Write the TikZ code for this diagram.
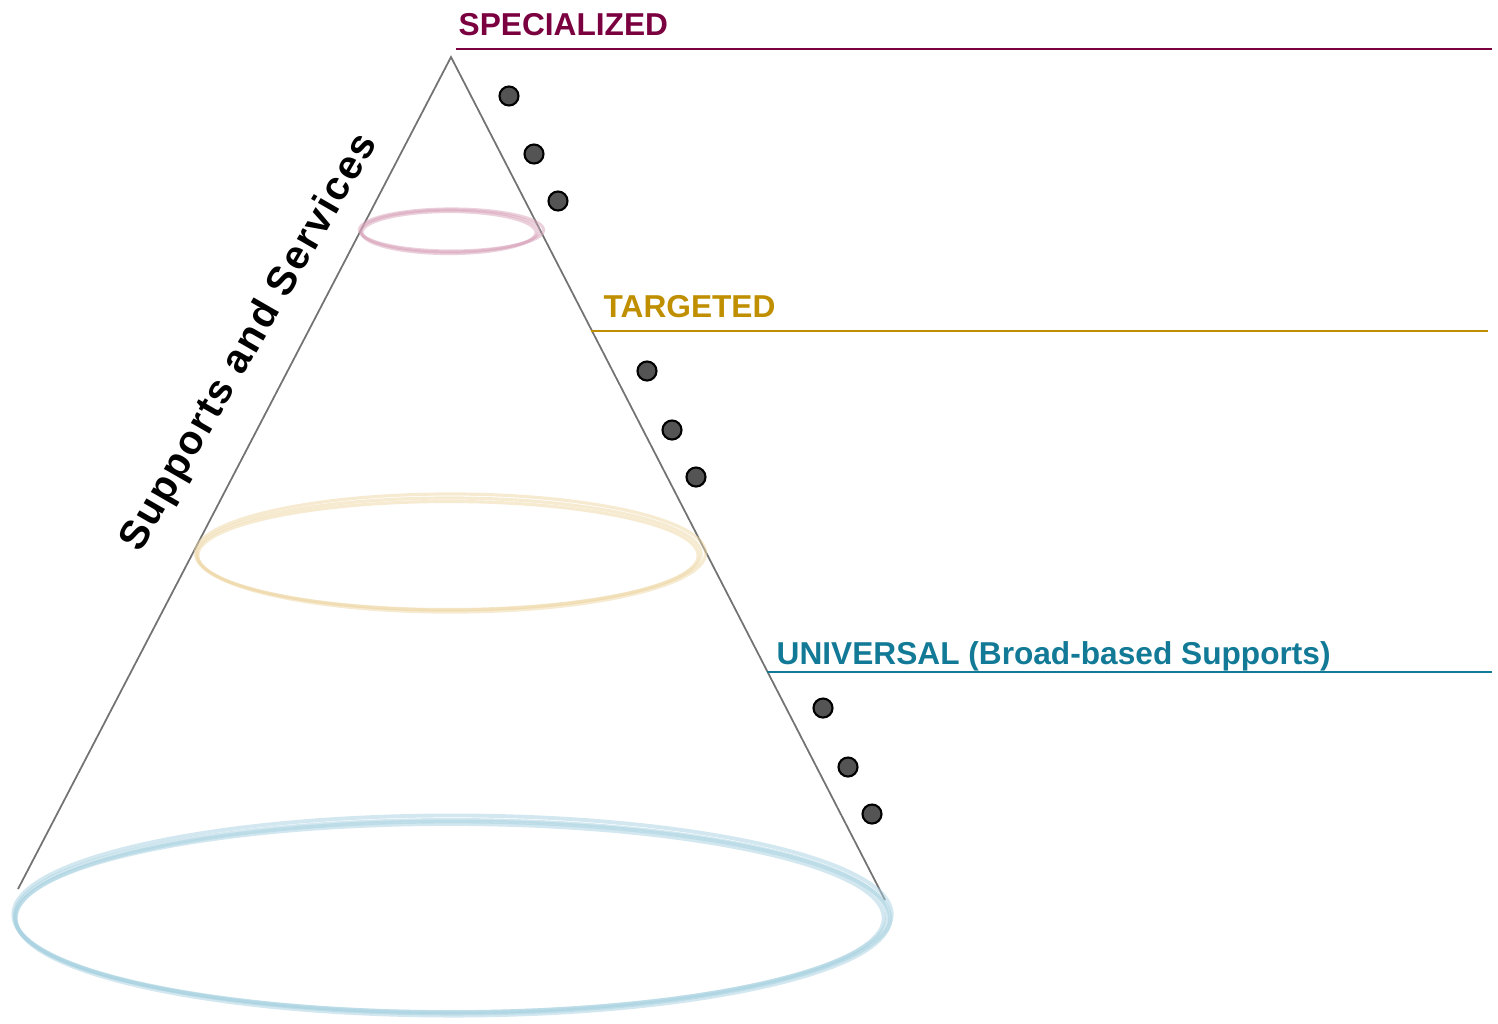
\documentclass[tikz,border=0pt]{standalone}
\usepackage{fontspec}
\setmainfont{Liberation Sans}
\newfontfamily\axisfont[LetterSpace=5]{Liberation Sans}
\usetikzlibrary{calc}

\definecolor{specialcol}{HTML}{7A0040}
\definecolor{targetcol}{HTML}{BF8F00}
\definecolor{universalcol}{HTML}{127A96}
\definecolor{pinkring}{HTML}{D8A4BA}
\definecolor{goldring}{HTML}{EDD6A4}
\definecolor{bluering}{HTML}{A6D0DF}

\begin{document}
\begin{tikzpicture}[x=0.01cm,y=-0.01cm,
  tier/.style={font=\bfseries\fontsize{9}{11}\selectfont,anchor=base west,inner sep=0pt},
  dot/.style={circle,draw=black,fill=black!67,line width=0.6pt,minimum size=0.19cm,inner sep=0pt},
  ring/.style={line width=0.9pt,opacity=0.5}]
  \useasboundingbox (0,0) rectangle (1498,1023);

  % cone
  \coordinate (apex) at (451,57);
  \coordinate (baseL) at (18,889);
  \coordinate (baseR) at (885,900);
  \draw[black!55,line width=0.5pt] (baseL) -- (apex) -- (baseR);

  % rings, drawn a few times for a sketchy look
  \foreach \dx/\dy/\dr in {0/0/0,1.5/-1/0.03,-1/1.5/-0.02} {
    \draw[ring,pinkring] ($(450,231)+(\dx,\dy)$) ellipse [x radius=0.89cm+\dr cm, y radius=0.21cm];
    \draw[ring,goldring] ($(449,554)+(\dx,\dy)$) ellipse [x radius=2.52cm+\dr cm, y radius=0.56cm+\dr cm];
  }
  \foreach \dx/\dy/\dr in {0/0/0,1.5/-1.5/0.03,-1.5/2/-0.02,2/2.5/0.01} {
    \draw[ring,bluering,line width=1.1pt] ($(451,916)+(\dx,\dy)$) ellipse [x radius=4.36cm+\dr cm, y radius=0.96cm+\dr cm];
  }

  % dots beside the cone
  \foreach \i/\x/\y in {1/509/96,2/534/154,3/558/201,
                        4/647/371,5/672/430,6/696/477,
                        7/823/708,8/848/767,9/872/814} {
    \node[dot] (dot\i) at (\x,\y) {};
  }

  % tiers
  \node[tier,text=specialcol] (special) at (458,35) {SPECIALIZED};
  \coordinate (specialL) at (456,49);
  \coordinate (specialR) at (1492,49);
  \draw[specialcol,line width=0.55pt] (specialL) -- (specialR);

  \node[tier,text=targetcol] (target) at (603,317) {TARGETED};
  \coordinate (targetL) at (591,331);
  \coordinate (targetR) at (1488,331);
  \draw[targetcol,line width=0.55pt] (targetL) -- (targetR);

  \node[tier,text=universalcol] (universal) at (776,664) {UNIVERSAL (Broad-based Supports)};
  \coordinate (universalL) at (767,672);
  \coordinate (universalR) at (1492,672);
  \draw[universalcol,line width=0.55pt] (universalL) -- (universalR);

  % axis label
  \node[rotate=60,font=\axisfont\bfseries\fontsize{11.5}{14}\selectfont] (axis) at (250,343) {Supports and Services};
\end{tikzpicture}
\end{document}
